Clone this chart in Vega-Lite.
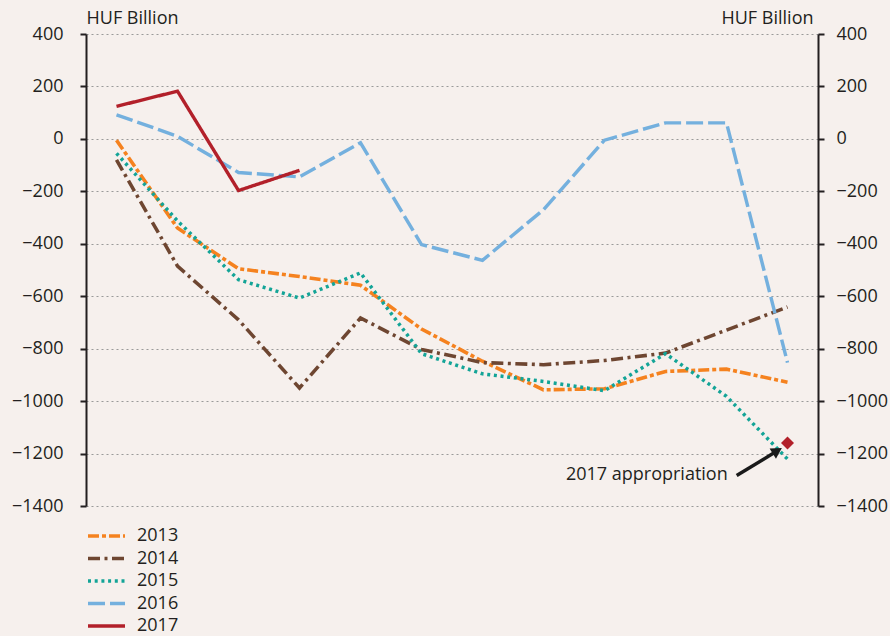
{
  "$schema": "https://vega.github.io/schema/vega-lite/v6.json",
  "width": 732,
  "height": 472,
  "autosize": "none",
  "padding": {"left": 86, "top": 34, "right": 72, "bottom": 130},
  "background": "#F6F0ED",
  "config": {
    "view": {"stroke": null},
    "font": "Open Sans",
    "text": {"font": "Open Sans", "fontSize": 18, "color": "#231F20"}
  },
  "datasets": {
    "series": [
      {"month": 1, "year": "2013", "value": -5},
      {"month": 2, "year": "2013", "value": -340},
      {"month": 3, "year": "2013", "value": -495},
      {"month": 4, "year": "2013", "value": -525},
      {"month": 5, "year": "2013", "value": -558},
      {"month": 6, "year": "2013", "value": -725},
      {"month": 7, "year": "2013", "value": -848},
      {"month": 8, "year": "2013", "value": -957},
      {"month": 9, "year": "2013", "value": -953},
      {"month": 10, "year": "2013", "value": -887},
      {"month": 11, "year": "2013", "value": -878},
      {"month": 12, "year": "2013", "value": -928},
      {"month": 1, "year": "2014", "value": -80},
      {"month": 2, "year": "2014", "value": -485},
      {"month": 3, "year": "2014", "value": -690},
      {"month": 4, "year": "2014", "value": -950},
      {"month": 5, "year": "2014", "value": -683},
      {"month": 6, "year": "2014", "value": -803},
      {"month": 7, "year": "2014", "value": -853},
      {"month": 8, "year": "2014", "value": -861},
      {"month": 9, "year": "2014", "value": -845},
      {"month": 10, "year": "2014", "value": -817},
      {"month": 11, "year": "2014", "value": -729},
      {"month": 12, "year": "2014", "value": -641},
      {"month": 1, "year": "2015", "value": -55},
      {"month": 2, "year": "2015", "value": -313},
      {"month": 3, "year": "2015", "value": -537},
      {"month": 4, "year": "2015", "value": -607},
      {"month": 5, "year": "2015", "value": -511},
      {"month": 6, "year": "2015", "value": -819},
      {"month": 7, "year": "2015", "value": -896},
      {"month": 8, "year": "2015", "value": -925},
      {"month": 9, "year": "2015", "value": -960},
      {"month": 10, "year": "2015", "value": -819},
      {"month": 11, "year": "2015", "value": -982},
      {"month": 12, "year": "2015", "value": -1221},
      {"month": 1, "year": "2016", "value": 92},
      {"month": 2, "year": "2016", "value": 10},
      {"month": 3, "year": "2016", "value": -128},
      {"month": 4, "year": "2016", "value": -145},
      {"month": 5, "year": "2016", "value": -15},
      {"month": 6, "year": "2016", "value": -403},
      {"month": 7, "year": "2016", "value": -463},
      {"month": 8, "year": "2016", "value": -270},
      {"month": 9, "year": "2016", "value": -5},
      {"month": 10, "year": "2016", "value": 61},
      {"month": 11, "year": "2016", "value": 61},
      {"month": 12, "year": "2016", "value": -853},
      {"month": 1, "year": "2017", "value": 124},
      {"month": 2, "year": "2017", "value": 182},
      {"month": 3, "year": "2017", "value": -197},
      {"month": 4, "year": "2017", "value": -120}
    ],
    "appropriation": [{"month": 12, "value": -1160}],
    "arrow": [{"x": 11.167, "y": -1284, "x2": 11.833, "y2": -1189.7}],
    "head": [{"x": 11.833, "y": -1189.7}],
    "label": [{"x": 11.02, "y": -1281, "text": "2017 appropriation"}]
  },
  "layer": [
    {
      "data": {"name": "series"},
      "mark": {"type": "line", "strokeCap": "butt", "strokeJoin": "miter"},
      "encoding": {
        "x": {
          "field": "month", "type": "quantitative",
          "scale": {"domain": [0.5, 12.5], "nice": false, "zero": false},
          "axis": {
            "orient": "bottom", "offset": -366.7, "title": null,
            "values": [1.5, 2.5, 3.5, 4.5, 5.5, 6.5, 7.5, 8.5, 9.5, 10.5, 11.5],
            "labels": false, "grid": false,
            "domainColor": "#231F20", "domainWidth": 2,
            "tickColor": "#231F20", "tickWidth": 2, "tickSize": 6
          }
        },
        "y": {
          "field": "value", "type": "quantitative",
          "scale": {"domain": [-1400, 400], "nice": false, "zero": false},
          "axis": {
            "orient": "left",
            "values": [-1400, -1200, -1000, -800, -600, -400, -200, 0, 200, 400],
            "format": "d",
            "grid": true, "gridDash": [2, 3], "gridColor": "#9A9A9A", "gridWidth": 1.2,
            "domainColor": "#231F20", "domainWidth": 2,
            "tickColor": "#231F20", "tickWidth": 2, "tickSize": 6,
            "labelPadding": 17, "labelFontSize": 18, "labelFont": "Open Sans", "labelColor": "#231F20",
            "title": "HUF Billion", "titleAngle": 0, "titleX": 0, "titleY": -16,
            "titleAlign": "left", "titleBaseline": "middle", "titleFontWeight": "normal",
            "titleFontSize": 18, "titleFont": "Open Sans", "titleColor": "#231F20"
          }
        },
        "color": {
          "field": "year", "type": "nominal",
          "scale": {"domain": ["2013", "2014", "2015", "2016", "2017"],
                    "range": ["#F5821F", "#6E4631", "#13A497", "#74B0DE", "#B2202A"]},
          "legend": {
            "orient": "none", "legendX": 0, "legendY": 493, "title": null, "padding": 0,
            "symbolType": "stroke", "symbolSize": 1369, "symbolStrokeWidth": 4,
            "clipHeight": 18,
            "labelFontSize": 18, "labelFont": "Open Sans", "labelColor": "#231F20",
            "labelOffset": 10, "rowPadding": 4.5
          }
        },
        "strokeDash": {
          "field": "year", "type": "nominal",
          "scale": {"domain": ["2013", "2014", "2015", "2016", "2017"],
                    "range": [[11, 3, 4, 3], [12, 4.5, 3, 4.5], [3, 3.7], [17, 5], [1, 0]]},
          "legend": null
        },
        "strokeWidth": {
          "field": "year", "type": "nominal",
          "scale": {"domain": ["2013", "2014", "2015", "2016", "2017"],
                    "range": [3.6, 3.4, 4, 4, 3.4]},
          "legend": null
        }
      }
    },
    {
      "data": {"name": "arrow"},
      "mark": {"type": "rule", "color": "#1a1a1a", "strokeWidth": 3.5},
      "encoding": {
        "x": {"field": "x", "type": "quantitative", "scale": {"domain": [0.5, 12.5], "nice": false, "zero": false}, "axis": null},
        "y": {"field": "y", "type": "quantitative", "scale": {"domain": [-1400, 400], "nice": false, "zero": false}, "axis": null},
        "x2": {"field": "x2"},
        "y2": {"field": "y2"}
      }
    },
    {
      "data": {"name": "head"},
      "mark": {"type": "point", "shape": "triangle-up", "filled": true, "color": "#1a1a1a", "size": 150, "angle": 58.7, "opacity": 1},
      "encoding": {
        "x": {"field": "x", "type": "quantitative", "scale": {"domain": [0.5, 12.5], "nice": false, "zero": false}, "axis": null},
        "y": {"field": "y", "type": "quantitative", "scale": {"domain": [-1400, 400], "nice": false, "zero": false}, "axis": null}
      }
    },
    {
      "data": {"name": "label"},
      "mark": {"type": "text", "align": "right", "baseline": "middle", "font": "Open Sans", "fontSize": 18, "color": "#231F20"},
      "encoding": {
        "x": {"field": "x", "type": "quantitative", "scale": {"domain": [0.5, 12.5], "nice": false, "zero": false}, "axis": null},
        "y": {"field": "y", "type": "quantitative", "scale": {"domain": [-1400, 400], "nice": false, "zero": false}, "axis": null},
        "text": {"field": "text"}
      }
    },
    {
      "data": {"name": "appropriation"},
      "mark": {"type": "point", "shape": "diamond", "filled": true, "color": "#B2202A", "size": 170, "opacity": 1},
      "encoding": {
        "x": {"field": "month", "type": "quantitative", "scale": {"domain": [0.5, 12.5], "nice": false, "zero": false}, "axis": null},
        "y": {
          "field": "value", "type": "quantitative",
          "scale": {"domain": [-1400, 400], "nice": false, "zero": false},
          "axis": {
            "orient": "right",
            "values": [-1400, -1200, -1000, -800, -600, -400, -200, 0, 200, 400],
            "format": "d", "grid": false,
            "domainColor": "#231F20", "domainWidth": 2,
            "tickColor": "#231F20", "tickWidth": 2, "tickSize": 6,
            "labelPadding": 12, "labelFontSize": 18, "labelFont": "Open Sans", "labelColor": "#231F20",
            "title": "HUF Billion", "titleAngle": 0, "titleX": -5, "titleY": -16,
            "titleAlign": "right", "titleBaseline": "middle", "titleFontWeight": "normal",
            "titleFontSize": 18, "titleFont": "Open Sans", "titleColor": "#231F20"
          }
        }
      }
    }
  ],
  "resolve": {"scale": {"y": "independent"}, "axis": {"y": "independent"}}
}
